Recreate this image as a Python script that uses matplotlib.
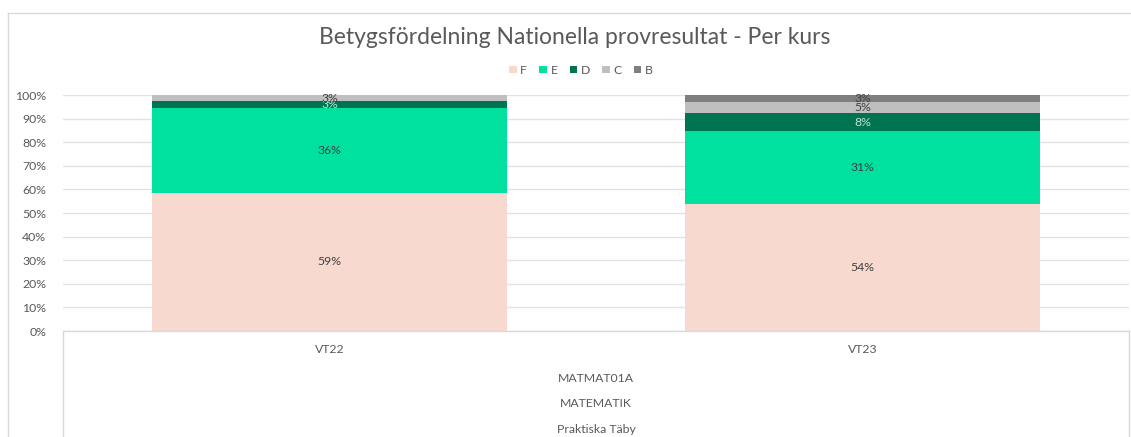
import matplotlib.pyplot as plt
import numpy as np
from matplotlib.lines import Line2D
from matplotlib.ticker import FuncFormatter

plt.rcParams["font.family"] = ["Lato", "DejaVu Sans"]

terms = ["VT22", "VT23"]
grades = ["F", "E", "D", "C", "B"]
# share per grade (%)
F = [58.6, 53.8]
E = [35.7, 30.8]
D = [3.1, 7.7]
C = [2.6, 4.6]
B = [0.0, 3.1]
course_levels = ["MATMAT01A", "MATEMATIK", "Praktiska Täby"]

colors = ["#F8D9D0", "#00E09E", "#007350", "#BFBFBF", "#7F7F7F"]
txt = "#595959"
fs = 8.8

fig = plt.figure(figsize=(11.31, 4.37), dpi=100)
ax = fig.add_axes([63 / 1131, 106 / 437, 1066 / 1131, 236 / 437])

x = np.arange(len(terms))
bottom = np.zeros(len(terms))
for name, vals, col in zip(grades, [F, E, D, C, B], colors):
    vals = np.array(vals)
    ax.bar(x, vals, 0.667, bottom=bottom, color=col, label=name, zorder=2)
    for xi, v, b0 in zip(x, vals, bottom):
        if v > 0:
            ax.text(xi, b0 + v / 2, f"{v:.0f}%", ha="center", va="center",
                    fontsize=fs, color="#404040" if name != "D" else "#BFE3D4",
                    zorder=3)
    bottom += vals

ax.set_xlim(-0.5, 1.5)
ax.set_ylim(0, 100)
ax.set_yticks(np.arange(0, 101, 10))
ax.yaxis.set_major_formatter(FuncFormatter(lambda v, p: f"{v:.0f}%"))
ax.grid(axis="y", color="#E3E3E3", lw=1, zorder=0)
for s in ax.spines.values():
    s.set_visible(False)
ax.tick_params(axis="y", length=0, labelsize=fs, labelcolor=txt, pad=12)
ax.set_xticks([])

# multi-level category box below the plot
tr = ax.transAxes
line_kw = dict(color="#D9D9D9", lw=1, transform=tr, clip_on=False)
ax.add_line(Line2D([0, 1], [0, 0], **line_kw))
ax.add_line(Line2D([0, 0], [0, -0.5], **line_kw))
ax.add_line(Line2D([1, 1], [0, -0.5], **line_kw))
for xi, t in zip(x, terms):
    ax.text(xi, -0.08, t, transform=ax.get_xaxis_transform(), ha="center",
            va="center", fontsize=fs, color=txt)
for k, lab in enumerate(course_levels):
    ax.text(0.5, -0.2 - k * 0.108, lab, transform=tr, ha="center",
            va="center", fontsize=fs, color=txt)

# outer chart border
fig.add_artist(Line2D([8 / 1131, 8 / 1131], [0, 1 - 13 / 437], color="#D9D9D9",
                      lw=1, transform=fig.transFigure))
fig.add_artist(Line2D([8 / 1131, 1], [1 - 13 / 437, 1 - 13 / 437], color="#D9D9D9",
                      lw=1, transform=fig.transFigure))

fig.text(575 / 1131, 1 - 38 / 437, "Betygsfördelning Nationella provresultat - Per kurs",
         ha="center", va="center", fontsize=16.5, color=txt)
ax.legend(loc="lower center", bbox_to_anchor=(518 / 1066, 1.035), ncol=5,
          frameon=False, fontsize=fs, handlelength=0.6, handleheight=0.6,
          handletextpad=0.3, columnspacing=1.0, labelcolor=txt)

fig.savefig("out.png", dpi=100)
